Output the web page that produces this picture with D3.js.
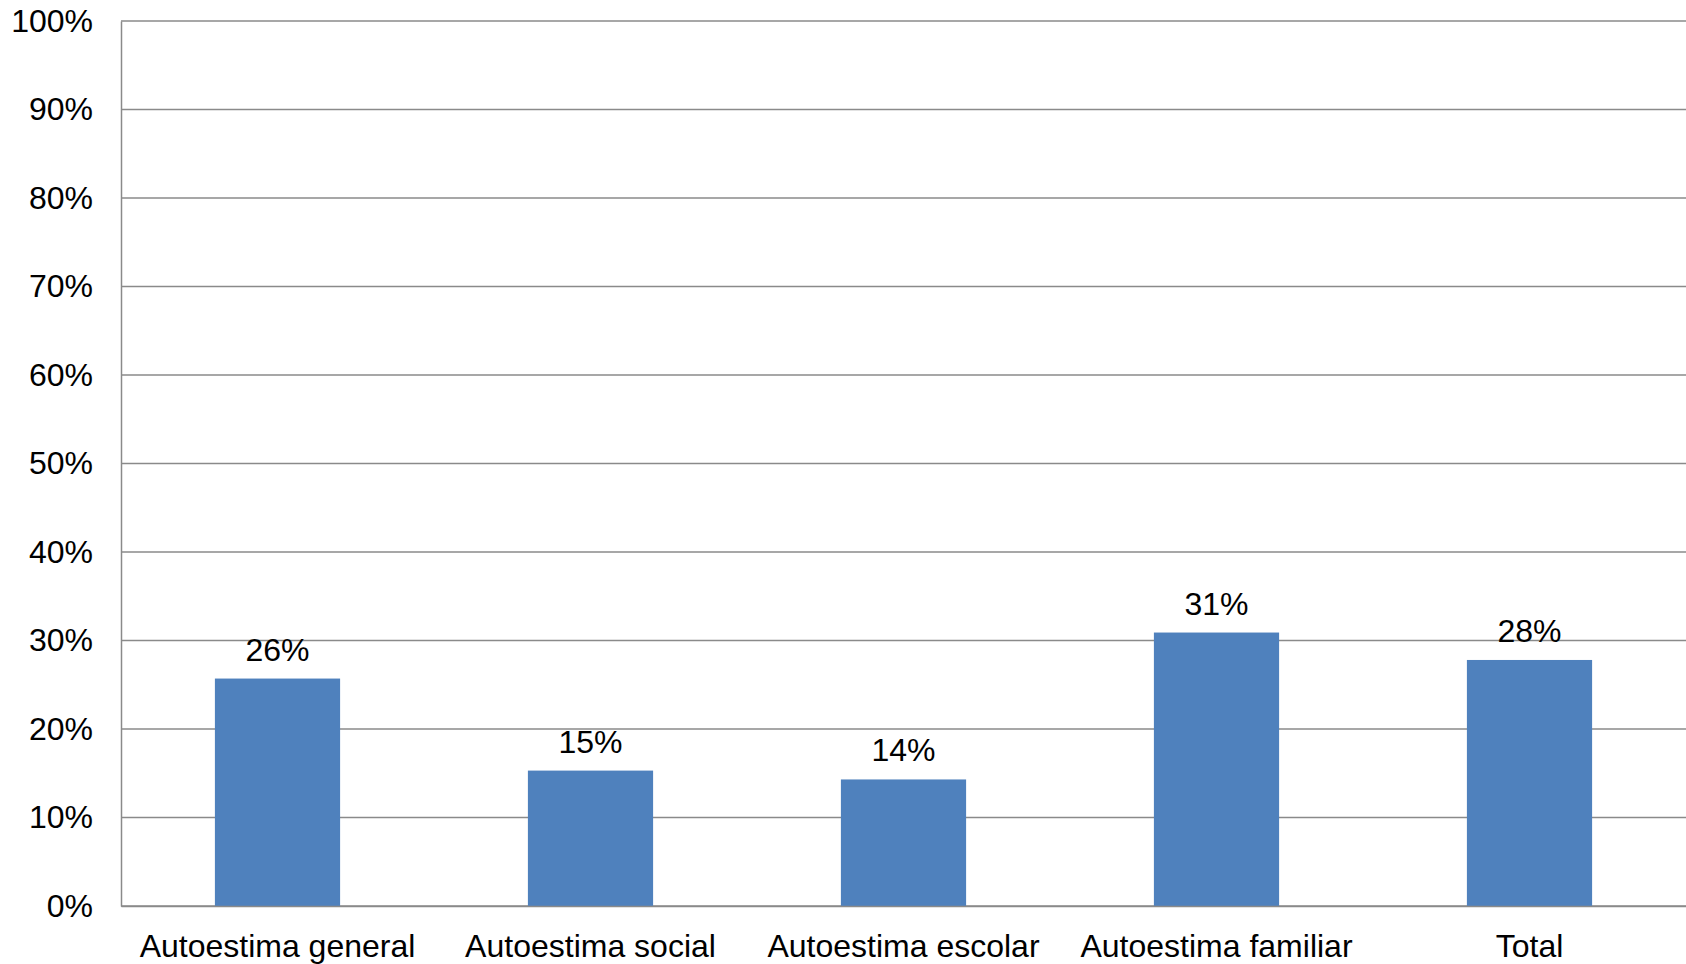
<!DOCTYPE html>
<html lang="es">
<head>
<meta charset="utf-8">
<title>Autoestima</title>
<script src="https://cdn.jsdelivr.net/npm/d3@7"></script>
<style>
  body { margin: 0; background: #fff; }
  text { font-family: "Liberation Sans", Arial, sans-serif; fill: #000; }
</style>
</head>
<body>
<script>
// data
const categories = ["Autoestima general", "Autoestima social", "Autoestima escolar", "Autoestima familiar", "Total"];
const values = [0.257, 0.153, 0.143, 0.309, 0.278];
const labels = ["26%", "15%", "14%", "31%", "28%"];
const yTicks = [0, 0.1, 0.2, 0.3, 0.4, 0.5, 0.6, 0.7, 0.8, 0.9, 1];

const w = 1686, h = 964;
const plotLeft = 121, plotRight = 1686, plotTop = 21, plotBottom = 906;

const svg = d3.select("body").append("svg")
  .attr("width", w)
  .attr("height", h);

const x = d3.scaleBand()
  .domain(categories)
  .range([plotLeft, plotRight])
  .paddingInner(0.6)
  .paddingOuter(0.3);

const y = d3.scaleLinear()
  .domain([0, 1])
  .range([plotBottom, plotTop]);

// gridlines
svg.append("g")
  .selectAll("line")
  .data(yTicks)
  .join("line")
  .attr("x1", plotLeft)
  .attr("x2", plotRight)
  .attr("y1", d => y(d))
  .attr("y2", d => y(d))
  .attr("stroke", "#8a8a8a")
  .attr("stroke-width", 1.5);

// y axis
const yAxis = svg.append("g")
  .attr("transform", `translate(${plotLeft},0)`)
  .call(d3.axisLeft(y).tickValues(yTicks).tickFormat(d3.format(".0%")).tickSize(0).tickPadding(28));
yAxis.select(".domain").attr("stroke", "#8a8a8a").attr("stroke-width", 1.5);
yAxis.selectAll("text")
  .attr("font-size", 32)
  .attr("font-family", "Liberation Sans, Arial, sans-serif")
  .attr("fill", "#000");

// bars
svg.append("g")
  .selectAll("rect")
  .data(values)
  .join("rect")
  .attr("x", (d, i) => x(categories[i]))
  .attr("y", d => y(d))
  .attr("width", x.bandwidth())
  .attr("height", d => y(0) - y(d))
  .attr("fill", "#4f81bd");

// value labels
svg.append("g")
  .selectAll("text")
  .data(values)
  .join("text")
  .attr("x", (d, i) => x(categories[i]) + x.bandwidth() / 2)
  .attr("y", d => y(d) - 18)
  .attr("text-anchor", "middle")
  .attr("font-size", 32)
  .text((d, i) => labels[i]);

// x axis
const xAxis = svg.append("g")
  .attr("transform", `translate(0,${plotBottom})`)
  .call(d3.axisBottom(x).tickSize(0).tickPadding(28));
xAxis.select(".domain").attr("stroke", "#8a8a8a").attr("stroke-width", 1.5);
xAxis.selectAll("text")
  .attr("font-size", 32)
  .attr("font-family", "Liberation Sans, Arial, sans-serif")
  .attr("fill", "#000");
</script>
</body>
</html>
